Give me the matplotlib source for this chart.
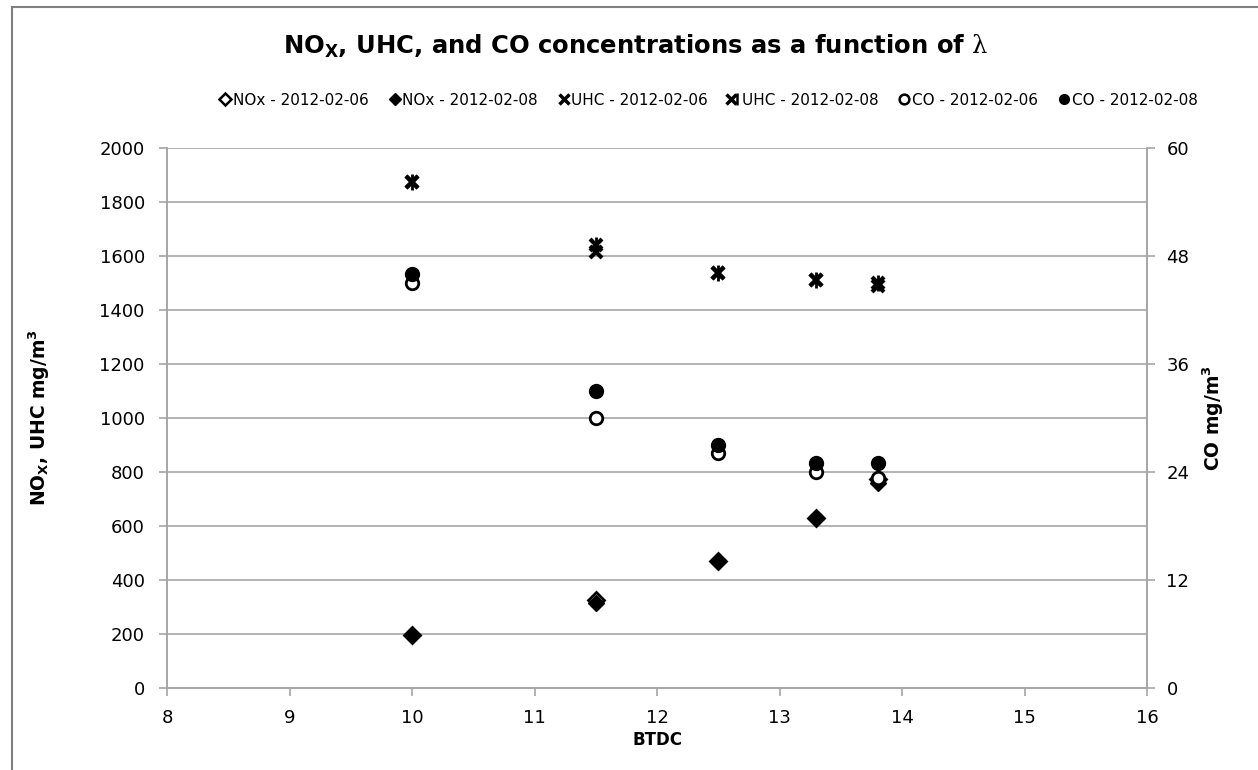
#!/usr/bin/env python3
# NOx, UHC and CO concentrations against ignition timing (BTDC)
import matplotlib
matplotlib.use('Agg')
import matplotlib.pyplot as plt
from matplotlib.lines import Line2D
from matplotlib.legend_handler import HandlerTuple

btdc = [10.0, 11.5, 12.5, 13.3, 13.8]

nox_0206 = [195, 325, 470, 630, 775]
nox_0208 = [195, 315, 470, 630, 760]
uhc_0206 = [1875, 1615, 1535, 1510, 1490]
uhc_0208 = [1875, 1640, 1535, 1510, 1500]
co_0206 = [45.0, 30.0, 26.1, 24.0, 23.3]   # right axis
co_0208 = [46.0, 33.0, 27.0, 25.0, 25.0]

labels = ['NOx - 2012-02-06', 'NOx - 2012-02-08', 'UHC - 2012-02-06',
          'UHC - 2012-02-08', 'CO - 2012-02-06', 'CO - 2012-02-08']

plt.rcParams['font.family'] = ['DejaVu Sans']
plt.rcParams['mathtext.fontset'] = 'custom'
plt.rcParams['mathtext.rm'] = 'DejaVu Serif'
plt.rcParams['mathtext.bf'] = 'DejaVu Sans:bold'

fig = plt.figure(figsize=(12.58, 7.70), dpi=100)
ax = fig.add_axes([0.1328, 0.1065, 0.779, 0.7015])
ax2 = ax.twinx()

grey = '#a6a6a6'

# NOx and UHC on the left axis
ax.plot(btdc, nox_0206, ls='none', marker='D', ms=8, mfc='white', mec='black', mew=2, zorder=3)
ax.plot(btdc, nox_0208, ls='none', marker='D', ms=8, mfc='black', mec='black', zorder=3)
ax.plot(btdc, uhc_0206, ls='none', marker='x', ms=9, mec='black', mew=3, zorder=3)
ax.plot(btdc, uhc_0208, ls='none', marker='x', ms=9, mec='black', mew=3, zorder=3)
ax.plot(btdc, uhc_0208, ls='none', marker='|', ms=11, mec='black', mew=2, zorder=3)

# CO on the right axis
ax2.plot(btdc, co_0206, ls='none', marker='o', ms=9, mfc='white', mec='black', mew=2, zorder=3)
ax2.plot(btdc, co_0208, ls='none', marker='o', ms=10, mfc='black', mec='black', zorder=4)

ax.set_xlim(8, 16)
ax.set_ylim(0, 2000)
ax2.set_ylim(0, 60)
ax.set_xticks(range(8, 17))
ax.set_yticks(range(0, 2001, 200))
ax2.set_yticks(range(0, 61, 12))

ax.grid(axis='y', color=grey, lw=1.2)
ax.set_axisbelow(True)

for a in (ax, ax2):
    a.spines['top'].set_visible(False)
    for s in ('left', 'right', 'bottom'):
        a.spines[s].set_color(grey)
        a.spines[s].set_linewidth(1.2)
    a.tick_params(labelsize=13, color=grey, length=6, width=1.2)
ax.tick_params(axis='y', pad=10)
ax.tick_params(axis='x', pad=9)
ax2.tick_params(axis='y', pad=8)

ax.set_xlabel('BTDC', fontsize=12, fontweight='bold', labelpad=3)
ax.set_ylabel(r'NO$_\mathbf{X}$, UHC mg/m$^\mathbf{3}$', fontsize=13.5, fontweight='bold', labelpad=34)
ax2.set_ylabel(r'CO mg/m$^\mathbf{3}$', fontsize=13.5, fontweight='bold', labelpad=8)

fig.text(0.505, 0.94, r'NO$_\mathbf{X}$, UHC, and CO concentrations as a function of $\mathrm{\lambda}$',
         ha='center', va='center', fontsize=17.5, fontweight='bold')

handles = [
    Line2D([], [], ls='none', marker='D', ms=6, mfc='white', mec='black', mew=1.8),
    Line2D([], [], ls='none', marker='D', ms=6, mfc='black', mec='black'),
    Line2D([], [], ls='none', marker='x', ms=7, mec='black', mew=2.5),
    (Line2D([], [], ls='none', marker='x', ms=7, mec='black', mew=2.5),
     Line2D([], [], ls='none', marker='|', ms=8, mec='black', mew=1.8)),
    Line2D([], [], ls='none', marker='o', ms=7, mfc='white', mec='black', mew=1.8),
    Line2D([], [], ls='none', marker='o', ms=7, mfc='black', mec='black'),
]
fig.legend(handles, labels, loc='center', bbox_to_anchor=(0.563, 0.87), ncol=6,
           frameon=False, fontsize=11, handlelength=0.8, handletextpad=0.1,
           columnspacing=1.3, handler_map={tuple: HandlerTuple(ndivide=None, pad=0)})

# chart area border (left and top edges)
fig.add_artist(Line2D([0.0095, 0.0095], [0, 0.991], transform=fig.transFigure, color='#7f7f7f', lw=1.5))
fig.add_artist(Line2D([0.0095, 1], [0.991, 0.991], transform=fig.transFigure, color='#7f7f7f', lw=1.5))

fig.savefig('out.png', dpi=100)
